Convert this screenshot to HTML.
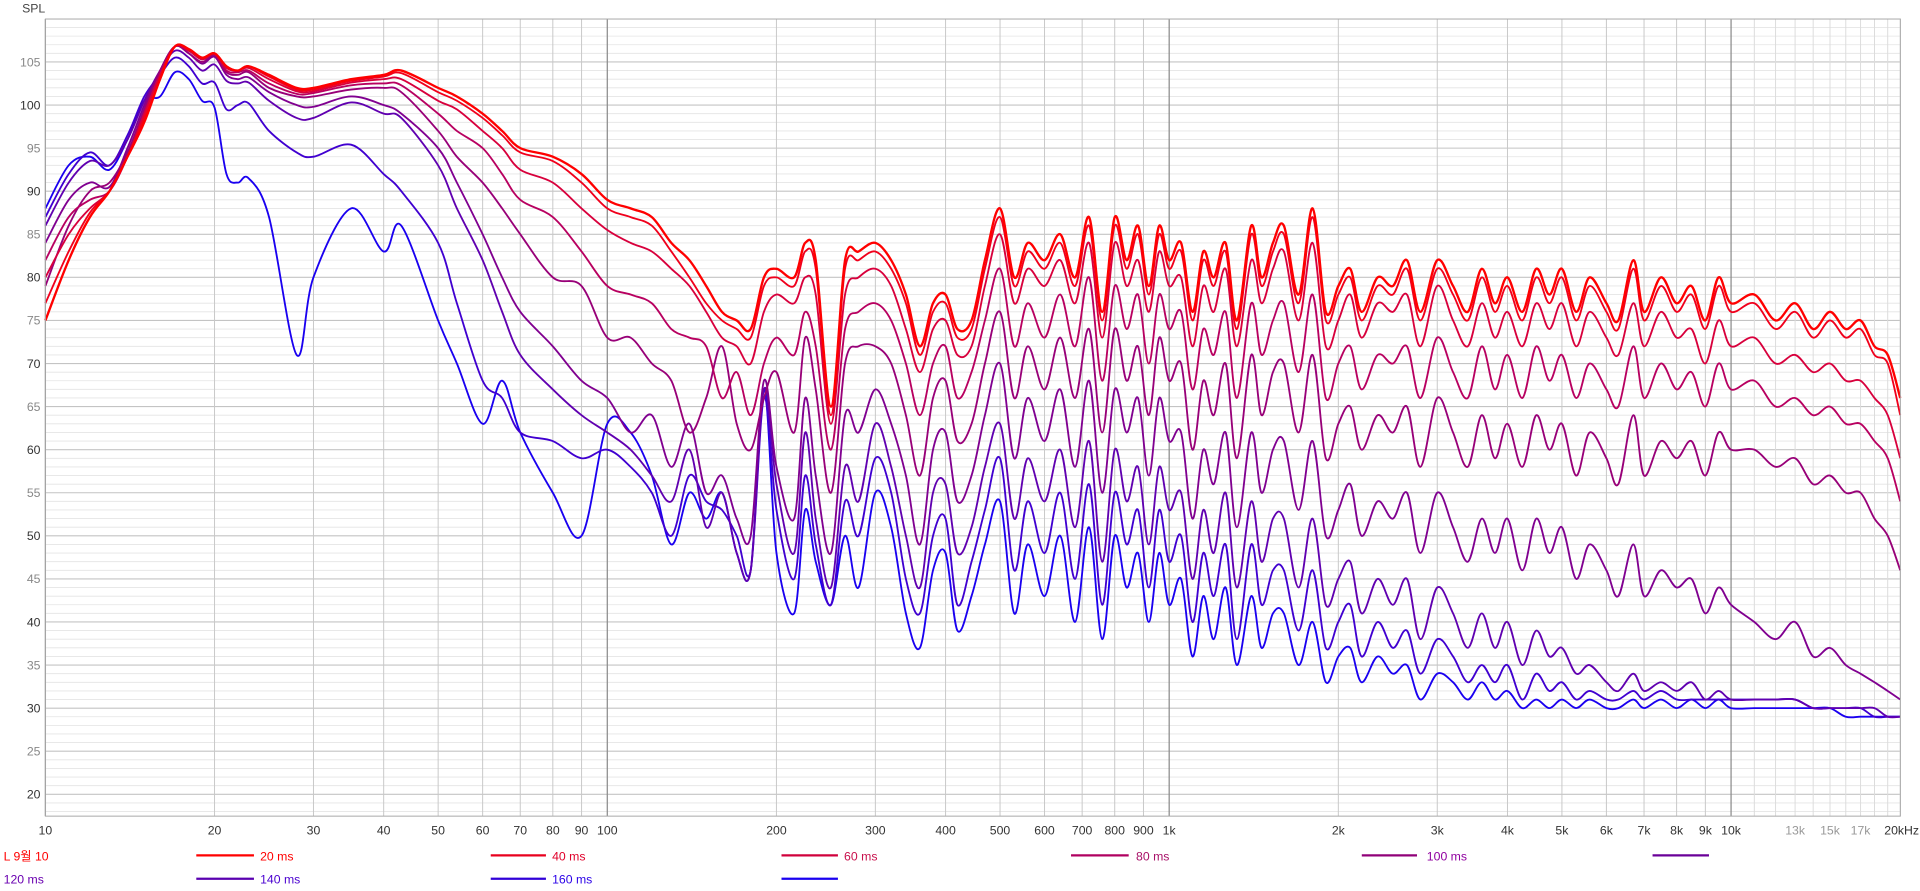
<!DOCTYPE html>
<html><head><meta charset="utf-8"><title>SPL waterfall</title>
<style>
html,body{margin:0;padding:0;background:#fff;}
svg{display:block;font-family:"Liberation Sans","Noto Sans CJK KR",sans-serif;}
</style></head>
<body>
<svg id="chart" width="1920" height="891" viewBox="0 0 1565 726" preserveAspectRatio="none" xmlns="http://www.w3.org/2000/svg">
<rect x="0" y="0" width="1565" height="726" fill="#fff"/>
<g id="grid"></g>
<g id="ylabels"></g>
<g id="xlabels"></g>
<text x="18" y="10" font-size="10" fill="#444">SPL</text>
<g id="series"></g>
<rect x="37" y="15.5" width="1512" height="649.5" fill="none" stroke="#a8a8a8" stroke-width="0.8"/>
<g id="legend"></g>
</svg>
<script>
const freqs = [10,11,12,13,14,15,16,17,18,19,20,21,22,23,
25,28,30,35,40,43,50,54,60,65,70,80,90,100,
110,120,130,140,150,160,170,180,190,200,215,225,235,250,265,280,300,
320,340,360,380,400,420,445,470,500,530,560,600,640,680,720,760,800,840,880,920,960,1000,
1050,1100,1150,1200,1260,1320,1400,1460,1530,1600,1700,1800,1900,2000,2100,2200,2350,2500,2650,2800,3000,
3200,3400,3600,3800,4000,4250,4500,4750,5000,5300,5600,6000,6300,6700,7000,7500,8000,8500,9000,9500,10000,11000,12000,13000,14000,15000,16000,17000,18000,19000,20000];

const s0 = [75,82,87,90,94,98,103,106.8,106.5,105.5,106,104.5,104,104.5,
103.5,102,102,103,103.5,104,102,101,99,97,95,94,92,89,
88,87,84,82,79,76,75,74,80,81,80,84,82,65,82,83,84,
82,78,72,77,78,74,75,82,88,80,84,82,85,80,87,76,87,82,86,79,86,82,
84,76,83,80,84,75,86,80,84,86,78,88,76,79,81,76,80,79,82,76,82,
79,76,81,77,80,76,81,78,81,76,80,77,75,82,76,80,77,79,75,80,77,78,75,77,74,76,74,75,72,71,66];
const s1 = [77,83,87.5,90,94,98.5,103,106.8,106.5,105.5,106,104.5,104,104.5,
103.3,101.8,101.8,102.8,103.3,103.7,101.5,100.5,98.5,96.5,94.5,93.5,91,88,
87,86,83,80,77,75,74,73,79,80,79,83,81,64,81,82,83,
81,77,71,76,77,73,74,81,87,79,83,81,84,79,86,75,86,81,85,78,85,81,
83,75,82,79,83,74,85,79,83,85,77,87,75,78,80,75,79,78,81,75,81,
78,75,80,76,79,75,80,77,80,75,79,76,74,81,75,79,76,78,74,79,76,77,74,76,73,75,73,74,71,70,64];
const s2 = [80,85,88,90,94,99,103.5,106.8,106.3,105.3,106,104.3,104,104.3,
103,101.6,101.6,102.6,103,103,100.5,99.5,97,95,92.5,91,88,85.5,
84,83,81,79,76,73,72,70,76,78,77,80,78,63,78,80,81,
79,74,69,74,75,71,72,79,85,77,81,79,82,77,84,73,84,79,82,76,83,79,
80,72,79,76,81,72,82,77,81,83,75,84,72,75,78,73,77,76,78,72,79,
75,72,77,73,76,72,77,74,77,72,76,73,71,77,72,76,73,74,70,75,72,73,70,71,69,70,68,68,66,64,59];
const s3 = [82,87,89,90,94,99,103.5,106.8,106.3,105.3,105.9,104,103.8,104,
102.5,101.3,101.4,102.3,102.5,102.3,99,97,95,92,89,87,83,79,
78,77,74,73,72,66,69,64,70,73,71,76,72,60,74,76,77,
75,70,64,70,72,66,69,75,81,72,77,73,78,72,80,68,79,74,78,70,78,74,
76,67,74,71,76,66,77,71,75,77,69,78,66,70,72,67,71,70,72,66,73,
69,66,72,67,71,66,72,68,71,66,70,67,65,72,66,70,67,69,65,70,67,68,65,66,64,65,63,63,61,59,54];
const s4 = [79,86,90,91,94.5,99.5,104,106.8,106,105,105.8,103.8,103.5,103.8,
102,101,101,101.8,102,101.5,97,94,91,88,85,80,79,73,
73,70,68,62,66,72,63,60,66,69,62,73,67,55,70,72,72,
70,64,57,66,68,61,63,70,76,66,72,67,73,66,74,62,74,68,72,64,73,68,
70,60,68,64,70,59,71,64,69,70,62,71,59,63,65,60,64,62,65,58,66,
62,58,64,59,63,58,64,60,63,57,62,59,56,64,57,61,59,61,57,62,60,60,58,59,56,57,55,55,52,50,46];
const s5 = [84,89,91,90.5,95,100,104,106.8,106,104.8,105.6,103.5,103,103.2,
101.5,100,99.8,101,100,99,95,91,85,80,76,72,68,66,
62,64,58,63,55,57,52,50,68,58,52,66,57,48,64,62,67,
63,57,49,60,62,54,57,64,70,59,66,61,67,58,68,55,67,62,66,57,66,61,
62,52,60,56,62,51,62,55,60,61,53,61,50,53,56,50,54,52,55,48,55,
51,47,52,48,52,46,52,48,51,45,49,46,43,49,43,46,44,45,41,44,42,40,38,40,36,37,35,34,33,32,31];
const s6 = [86,91,93.5,93,96,100.5,104,106.3,105.5,104,104.7,102.8,102.5,102.6,
100.5,98.5,98.5,100.3,99,98.5,93,88,82,76,71,67,64,62,
60,57,54,60,51,55,48,46,67,56,48,62,52,44,58,54,63,
58,50,44,55,56,48,51,58,63,52,59,54,60,51,61,47,60,54,58,49,58,53,
55,45,53,48,55,44,54,47,52,52,44,52,42,45,47,41,45,42,45,38,44,
41,37,41,37,40,35,39,36,37,34,35,33,32,34,32,33,32,33,31,32,31,31,31,31,30,30,30,30,30,29,29];
const s7 = [87,92,94.5,93,96.5,101,103.5,105.5,104.5,102.5,102.6,99.5,100,100.2,
97,94.5,94,95.4,92,90,84,77,68,66,62,61,59,60,
58,55,50,57,54,53,50,46,66,53,45,57,49,42,54,50,59,
55,45,41,50,52,42,47,53,59,46,54,48,55,45,56,42,55,49,53,44,53,47,
50,40,48,43,49,38,49,42,46,46,39,46,37,40,42,36,40,37,39,34,38,
36,33,35,33,35,31,34,32,33,31,32,31,31,32,31,32,31,31,31,31,31,31,31,31,30,30,30,30,29,29,29];
const s8 = [88,93,94,92.5,96,100.5,101,103.8,103,100.5,99.7,92,91,91.5,
87,71,80,88,83,86,75,70,63,68,62,55,50,63,
62,57,49,55,52,55,48,46,67,48,41,53,47,42,50,44,55,
51,41,37,46,48,39,43,49,54,41,49,43,50,40,51,38,50,44,48,40,48,42,
45,36,43,38,44,35,43,37,41,41,35,40,33,36,37,33,36,34,35,31,34,
33,31,33,31,32,30,31,30,31,30,31,30,30,31,30,31,30,31,30,31,30,30,30,30,30,30,29,29,29,29,29];

const seriesNames = ["20 ms","40 ms","60 ms","80 ms","100 ms","120 ms","140 ms","160 ms","180 ms"];
const seriesColors = ["#ff0000","#f0001c","#d8003c","#b80060","#980078","#800090","#6000b0","#4000d0","#1a00f0"];
const yTicks = [20,25,30,35,40,45,50,55,60,65,70,75,80,85,90,95,100,105];
const xTickValues = [10,20,30,40,50,60,70,80,90,100,200,300,400,500,600,700,800,900,1000,2000,3000,4000,5000,6000,7000,8000,9000,10000,13000,15000,17000,20000];
const xTickLabels = ["10","20","30","40","50","60","70","80","90","100","200","300","400","500","600","700","800","900","1k","2k","3k","4k","5k","6k","7k","8k","9k","10k","13k","15k","17k","20kHz"];

const NS = "http://www.w3.org/2000/svg";
const X0 = 37, X1 = 1549, YT = 15.5, YB = 665;
function xScale(f){ return X0 + 458 * Math.log10(f / 10); }
function yScale(v){ return 85.6 + (100 - v) * 7.02; }
function mk(tag, attrs, parent){
  const e = document.createElementNS(NS, tag);
  for (const k in attrs) e.setAttribute(k, attrs[k]);
  parent.appendChild(e);
  return e;
}

// grid
const grid = document.getElementById('grid');
for (let v = 18; v <= 109; v++) {
  const y = yScale(v);
  if (y < YT || y > YB) continue;
  const major = v % 5 === 0;
  const ln = mk('line', {x1: X0, x2: X1, y1: y, y2: y, stroke: major ? '#c4c4c4' : '#e4e4e4', 'stroke-width': major ? 0.9 : 0.7}, grid);
  
  
}
const vFreqs = [];
for (let d = 10; d <= 10000; d *= 10) for (let m = 1; m <= 9; m++) vFreqs.push(d * m);
for (let k = 11; k <= 19; k++) vFreqs.push(k * 1000);
vFreqs.forEach(f => {
  if (f > 20000) return;
  const x = xScale(f);
  const dec = (f === 10 || f === 100 || f === 1000 || f === 10000);
  const ln = mk('line', {x1: x, x2: x, y1: YT, y2: YB, stroke: dec ? '#8a8a8a' : (f > 10000 ? '#dcdcdc' : '#c8c8c8'), 'stroke-width': dec ? 1 : 0.8}, grid);
  
  
});

// y labels
const yl = document.getElementById('ylabels');
yTicks.forEach(v => {
  const t = mk('text', {x: 33, y: yScale(v) + 3.5, 'text-anchor': 'end', 'font-size': 10, fill: v % 10 === 0 ? '#333' : '#888'}, yl);
  t.textContent = v;
  
  
});

// x labels
const xl = document.getElementById('xlabels');
xTickValues.forEach((f, i) => {
  const lab = xTickLabels[i];
  const gray = (lab === '13k' || lab === '15k' || lab === '17k');
  const anchor = lab === '20kHz' ? 'start' : 'middle';
  const x = lab === '20kHz' ? xScale(f) - 13 : xScale(f);
  const t = mk('text', {x: x, y: 680, 'text-anchor': anchor, 'font-size': 10, fill: gray ? '#999' : '#333'}, xl);
  t.textContent = lab;
  
  
});

// series
const allSeries = [s0, s1, s2, s3, s4, s5, s6, s7, s8];
const sg = document.getElementById('series');
for (let i = allSeries.length - 1; i >= 0; i--) {
  const vals = allSeries[i];
  const pts = [];
  for (let j = 0; j < freqs.length && j < vals.length; j++) pts.push([xScale(freqs[j]), yScale(vals[j])]);
  let d = 'M' + pts[0][0].toFixed(1) + ' ' + pts[0][1].toFixed(1);
  for (let j = 0; j < pts.length - 1; j++) {
    const p0 = pts[Math.max(0, j - 1)], p1 = pts[j], p2 = pts[j + 1], p3 = pts[Math.min(pts.length - 1, j + 2)];
    const c1x = p1[0] + (p2[0] - p0[0]) / 6, c1y = p1[1] + (p2[1] - p0[1]) / 6;
    const c2x = p2[0] - (p3[0] - p1[0]) / 6, c2y = p2[1] - (p3[1] - p1[1]) / 6;
    d += ' C' + c1x.toFixed(1) + ' ' + c1y.toFixed(1) + ' ' + c2x.toFixed(1) + ' ' + c2y.toFixed(1) + ' ' + p2[0].toFixed(1) + ' ' + p2[1].toFixed(1);
  }
  const p = mk('path', {d: d, fill: 'none', stroke: seriesColors[i], 'stroke-width': i === 0 ? 1.9 : 1.5, 'stroke-linejoin': 'round'}, sg);
  
  
}

// legend
const lg = document.getElementById('legend');
const legendItems = [
  {text: 'L 9월 10', tx: 3, ty: 701, color: '#ff0000', line: [160, 207, 697, '#ff0000']},
  {text: '20 ms', tx: 212, ty: 701, color: '#ff0000', line: [400, 445, 697, '#e8001e']},
  {text: '40 ms', tx: 450, ty: 701, color: '#e0002a', line: [637, 683, 697, '#d0003c']},
  {text: '60 ms', tx: 688, ty: 701, color: '#c8104c', line: [873, 920, 697, '#b00060']},
  {text: '80 ms', tx: 926, ty: 701, color: '#a81068', line: [1110, 1155, 697, '#900078']},
  {text: '100 ms', tx: 1163, ty: 701, color: '#9000a0', line: [1347, 1393, 697, '#6a0098']},
  {text: '120 ms', tx: 3, ty: 720, color: '#6a00b0', line: [160, 207, 716, '#5a00b0']},
  {text: '140 ms', tx: 212, ty: 720, color: '#4a00d0', line: [400, 445, 716, '#3000d8']},
  {text: '160 ms', tx: 450, ty: 720, color: '#2a00e8', line: [637, 683, 716, '#1a00f0']}
];
legendItems.forEach(it => {
  const t = mk('text', {x: it.tx, y: it.ty, 'font-size': 10, fill: it.color}, lg);
  t.textContent = it.text;
  
  
  const l = mk('line', {x1: it.line[0], x2: it.line[1], y1: it.line[2], y2: it.line[2], stroke: it.line[3], 'stroke-width': 1.8}, lg);
  
  
});
</script>
</body></html>
